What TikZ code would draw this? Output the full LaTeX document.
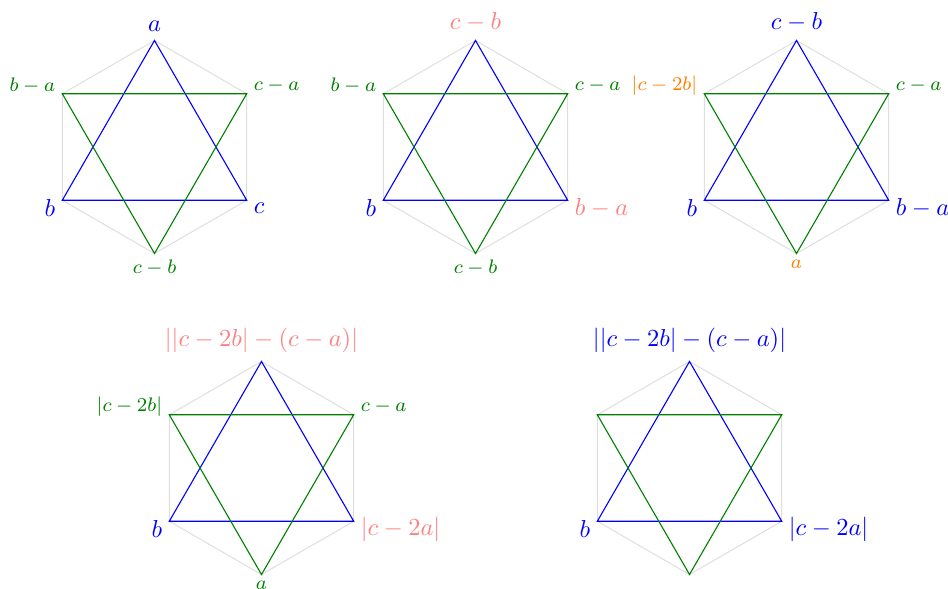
\documentclass[tikz,border=0pt]{standalone}
\definecolor{cblue}{RGB}{0,0,255}
\definecolor{cgreen}{RGB}{0,128,0}
\definecolor{cpink}{RGB}{255,128,128}
\definecolor{corange}{RGB}{255,128,0}
\definecolor{cgray}{RGB}{222,222,222}
\tikzset{
  hexline/.style={draw=cgray, line width=0.4pt},
  triblue/.style={draw=cblue, line width=0.45pt},
  trigreen/.style={draw=cgreen, line width=0.45pt},
  big/.style={font=\normalsize},
  sml/.style={font=\footnotesize},
  lT/.style={anchor=south},
  lB/.style={anchor=north, yshift=0.8pt},
  lTL/.style={anchor=east, xshift=0.6pt, yshift=3.3pt},
  lTR/.style={anchor=west, xshift=-0.6pt, yshift=3.3pt},
  lBL/.style={anchor=east, xshift=0.6pt, yshift=-3.1pt},
  lBR/.style={anchor=west, xshift=-0.6pt, yshift=-3.3pt},
}
\begin{document}
\begin{tikzpicture}[x=0.408pt, y=-0.408pt]
\useasboundingbox (0,0) rectangle (948,588);
\foreach \n/\cx/\cy in {1/154.5/147, 2/475.5/147, 3/796.5/147, 4/261.5/468, 5/689.5/468} {
  \coordinate (h\n-t)  at (\cx, \cy-106.5);
  \coordinate (h\n-tr) at (\cx+92.2, \cy-53.25);
  \coordinate (h\n-br) at (\cx+92.2, \cy+53.25);
  \coordinate (h\n-b)  at (\cx, \cy+106.5);
  \coordinate (h\n-bl) at (\cx-92.2, \cy+53.25);
  \coordinate (h\n-tl) at (\cx-92.2, \cy-53.25);
  \draw[hexline] (h\n-t) -- (h\n-tr) -- (h\n-br) -- (h\n-b) -- (h\n-bl) -- (h\n-tl) -- cycle;
  \draw[triblue] (h\n-t) -- (h\n-br) -- (h\n-bl) -- cycle;
  \draw[trigreen] (h\n-tl) -- (h\n-tr) -- (h\n-b) -- cycle;
}
% hexagram 1
\node[big, lT, text=cblue] (l1t) at (h1-t) {$a$};
\node[sml, lTL, text=cgreen] (l1tl) at (h1-tl) {$b-a$};
\node[sml, lTR, text=cgreen] (l1tr) at (h1-tr) {$c-a$};
\node[big, lBL, text=cblue] (l1bl) at (h1-bl) {$b$};
\node[big, lBR, text=cblue] (l1br) at (h1-br) {$c$};
\node[sml, lB, text=cgreen] (l1b) at (h1-b) {$c-b$};
% hexagram 2
\node[big, lT, text=cpink] (l2t) at (h2-t) {$c-b$};
\node[sml, lTL, text=cgreen] (l2tl) at (h2-tl) {$b-a$};
\node[sml, lTR, text=cgreen] (l2tr) at (h2-tr) {$c-a$};
\node[big, lBL, text=cblue] (l2bl) at (h2-bl) {$b$};
\node[big, lBR, text=cpink] (l2br) at (h2-br) {$b-a$};
\node[sml, lB, text=cgreen] (l2b) at (h2-b) {$c-b$};
% hexagram 3
\node[big, lT, text=cblue] (l3t) at (h3-t) {$c-b$};
\node[sml, lTL, text=corange] (l3tl) at (h3-tl) {$|c-2b|$};
\node[sml, lTR, text=cgreen] (l3tr) at (h3-tr) {$c-a$};
\node[big, lBL, text=cblue] (l3bl) at (h3-bl) {$b$};
\node[big, lBR, text=cblue] (l3br) at (h3-br) {$b-a$};
\node[sml, lB, text=corange] (l3b) at (h3-b) {$a$};
% hexagram 4
\node[big, lT, text=cpink] (l4t) at (h4-t) {$||c-2b|-(c-a)|$};
\node[sml, lTL, text=cgreen] (l4tl) at (h4-tl) {$|c-2b|$};
\node[sml, lTR, text=cgreen] (l4tr) at (h4-tr) {$c-a$};
\node[big, lBL, text=cblue] (l4bl) at (h4-bl) {$b$};
\node[big, lBR, text=cpink] (l4br) at (h4-br) {$|c-2a|$};
\node[sml, lB, text=cgreen] (l4b) at (h4-b) {$a$};
% hexagram 5
\node[big, lT, text=cblue] (l5t) at (h5-t) {$||c-2b|-(c-a)|$};
\node[big, lBL, text=cblue] (l5bl) at (h5-bl) {$b$};
\node[big, lBR, text=cblue] (l5br) at (h5-br) {$|c-2a|$};
\end{tikzpicture}
\end{document}
